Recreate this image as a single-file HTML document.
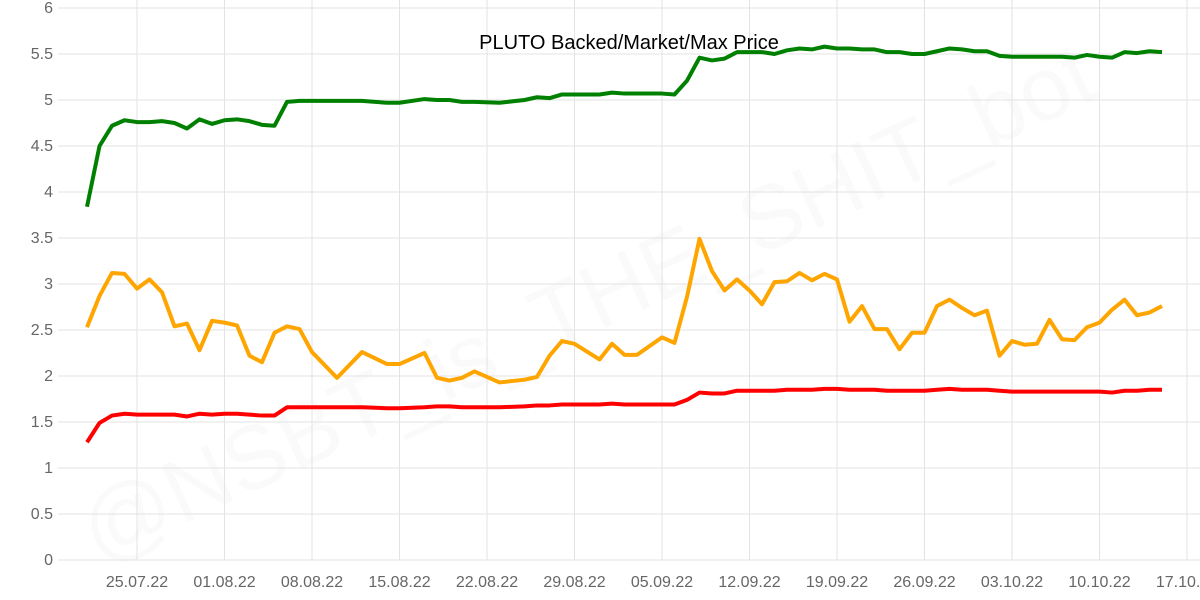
<!DOCTYPE html>
<html><head><meta charset="utf-8"><style>
html,body{margin:0;padding:0;background:#fff;}
svg{display:block;font-family:"Liberation Sans",Arial,sans-serif;}
</style></head><body>
<svg id="chart" width="1200" height="600" viewBox="0 0 1200 600" xmlns="http://www.w3.org/2000/svg">
<text x="600" y="330" transform="rotate(-25 600 330)" text-anchor="middle" font-size="90" fill="#000" fill-opacity="0.02">@NSBT_is_THE_SHIT_bot</text>
<g id="grid"></g><g id="series"></g><g id="labels"></g>
<text x="629" y="49" text-anchor="middle" font-size="20" fill="#000">PLUTO Backed/Market/Max Price</text>
</svg>
<script>
const days=[0,1,2,3,4,5,6,7,8,9,10,11,12,13,14,15,16,17,18,20,22,24,25,27,28,29,30,31,33,35,36,37,38,39,41,42,43,44,46,47,48,49,50,51,52,53,54,55,56,57,58,59,60,61,62,63,64,65,66,67,68,69,70,71,72,73,74,75,76,77,78,79,80,81,82,83,84,85,86];
const marketPrice=[2.53,2.87,3.12,3.11,2.95,3.05,2.91,2.54,2.57,2.28,2.60,2.58,2.55,2.22,2.15,2.47,2.54,2.51,2.26,1.98,2.26,2.13,2.13,2.25,1.98,1.95,1.98,2.05,1.93,1.96,1.99,2.22,2.38,2.35,2.18,2.35,2.23,2.23,2.42,2.36,2.86,3.49,3.14,2.93,3.05,2.93,2.78,3.02,3.03,3.12,3.04,3.11,3.05,2.59,2.76,2.51,2.51,2.29,2.47,2.47,2.76,2.83,2.74,2.66,2.71,2.22,2.38,2.34,2.35,2.61,2.40,2.39,2.53,2.58,2.72,2.83,2.66,2.69,2.76];
const maxPrice=[3.84,4.50,4.72,4.78,4.76,4.76,4.77,4.75,4.69,4.79,4.74,4.78,4.79,4.77,4.73,4.72,4.98,4.99,4.99,4.99,4.99,4.97,4.97,5.01,5.00,5.00,4.98,4.98,4.97,5.00,5.03,5.02,5.06,5.06,5.06,5.08,5.07,5.07,5.07,5.06,5.21,5.46,5.43,5.45,5.52,5.52,5.52,5.50,5.54,5.56,5.55,5.58,5.56,5.56,5.55,5.55,5.52,5.52,5.50,5.50,5.53,5.56,5.55,5.53,5.53,5.48,5.47,5.47,5.47,5.47,5.47,5.46,5.49,5.47,5.46,5.52,5.51,5.53,5.52];
const backedPrice=[1.28,1.49,1.57,1.59,1.58,1.58,1.58,1.58,1.56,1.59,1.58,1.59,1.59,1.58,1.57,1.57,1.66,1.66,1.66,1.66,1.66,1.65,1.65,1.66,1.67,1.67,1.66,1.66,1.66,1.67,1.68,1.68,1.69,1.69,1.69,1.70,1.69,1.69,1.69,1.69,1.74,1.82,1.81,1.81,1.84,1.84,1.84,1.84,1.85,1.85,1.85,1.86,1.86,1.85,1.85,1.85,1.84,1.84,1.84,1.84,1.85,1.86,1.85,1.85,1.85,1.84,1.83,1.83,1.83,1.83,1.83,1.83,1.83,1.83,1.82,1.84,1.84,1.85,1.85];
const yTicks=[0,0.5,1,1.5,2,2.5,3,3.5,4,4.5,5,5.5,6];
const xTickDays=[4,11,18,25,32,39,46,53,60,67,74,81,88];
const xTickLabels=["25.07.22","01.08.22","08.08.22","15.08.22","22.08.22","29.08.22","05.09.22","12.09.22","19.09.22","26.09.22","03.10.22","10.10.22","17.10.22"];

const NS="http://www.w3.org/2000/svg";
const X=d=>87+d*12.5;
const Y=v=>560-v*92;
function mk(tag,attrs,parent){const e=document.createElementNS(NS,tag);for(const k in attrs)e.setAttribute(k,attrs[k]);parent.appendChild(e);return e;}
const grid=document.getElementById('grid'),labels=document.getElementById('labels'),series=document.getElementById('series');
yTicks.forEach(v=>{
  const l=mk('line',{x1:58,x2:1200,y1:Y(v),y2:Y(v),stroke:'#e3e3e3','stroke-width':1},grid);
  
  
  const t=mk('text',{x:53,y:Y(v)+5,'text-anchor':'end','font-size':16,fill:'#666'},labels);
  t.textContent=String(v);
  
  
});
xTickDays.forEach((d,i)=>{
  const l=mk('line',{x1:X(d),x2:X(d),y1:0,y2:560,stroke:'#e3e3e3','stroke-width':1},grid);
  
  
  const t=mk('text',{x:X(d),y:587,'text-anchor':'middle','font-size':16,fill:'#666'},labels);
  t.textContent=xTickLabels[i];
  
  
});
function line(vals,color,name){
  const p=mk('polyline',{points:days.map((d,i)=>X(d)+','+Y(vals[i])).join(' '),fill:'none',stroke:color,'stroke-width':4,'stroke-linejoin':'round'},series);
  
  
}
line(maxPrice,'#008000','max-price-line');
line(marketPrice,'#ffa500','market-price-line');
line(backedPrice,'#ff0000','backed-price-line');
</script>
</body></html>
